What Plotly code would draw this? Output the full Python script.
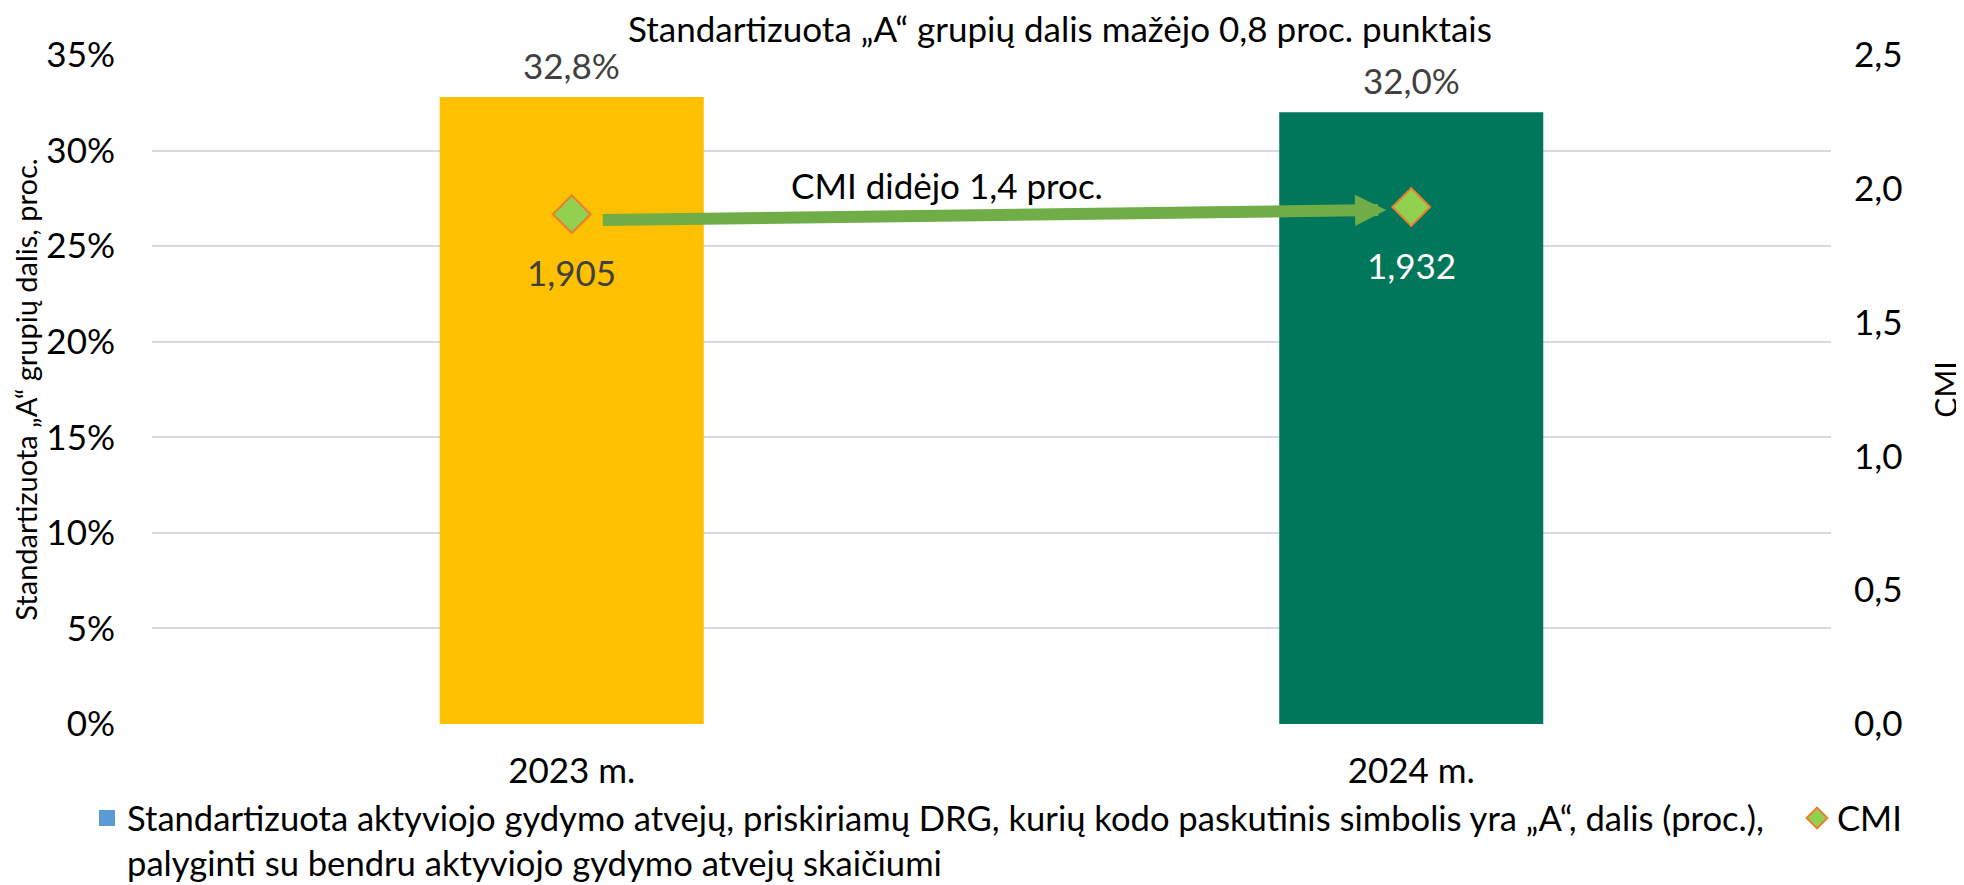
import plotly.graph_objects as go

# ---- data ----
categories = ["2023 m.", "2024 m."]
share_pct = [32.8, 32.0]
cmi_values = [1.905, 1.932]
bar_colors = ["#FFC000", "#00765A"]
cmi_label_colors = ["#404040", "#FFFFFF"]
left_ticks = [0, 5, 10, 15, 20, 25, 30, 35]
right_ticks = [0.0, 0.5, 1.0, 1.5, 2.0, 2.5]

title_text = "Standartizuota „A“ grupių dalis mažėjo 0,8 proc. punktais"
arrow_text = "CMI didėjo 1,4 proc."
left_title = "Standartizuota „A“ grupių dalis, proc."
right_title = "CMI"
bar_legend = ("Standartizuota aktyviojo gydymo atvejų, priskiriamų DRG, kurių kodo paskutinis simbolis yra „A“, dalis (proc.),"
              "<br>palyginti su bendru aktyviojo gydymo atvejų skaičiumi")
cmi_legend = "CMI"

FONT = "Lato"
FS = 35
LFS = 34.6

# page has an 8px body margin: figure coords = page coords - 8
W, H = 1956, 877
ML, MT, MR, MB = 144, 47, 133, 161
PW = W - ML - MR
PH = H - MT - MB


def fmt(v, d):
    return f"{v:.{d}f}".replace(".", ",")


def px_x(page_x):
    return (page_x - 8 - ML) / PW


def px_y(page_y):
    return 1 - (page_y - 8 - MT) / PH


fig = go.Figure()

# legend-only entry for the bar series (blue square as in the original legend)
fig.add_trace(go.Scatter(x=[categories[0]], y=[None], name=bar_legend, mode="markers",
                         marker=dict(symbol="square", size=16, color="#5B9BD5"),
                         showlegend=True, hoverinfo="skip", yaxis="y", legend="legend"))

fig.add_trace(go.Bar(x=categories, y=share_pct, marker=dict(color=bar_colors, line=dict(width=0)),
                     showlegend=False, yaxis="y", name="share"))

fig.add_trace(go.Scatter(x=categories, y=cmi_values, mode="markers", name=cmi_legend,
                         yaxis="y2", legend="legend2",
                         marker=dict(symbol="diamond", size=29, color="#92D050",
                                     line=dict(color="#ED7D31", width=2))))

annotations = []
# bar value labels
for c, v in zip(categories, share_pct):
    annotations.append(dict(x=c, y=v, xref="x", yref="y", text=fmt(v, 1) + "%",
                            showarrow=False, yshift=32, yanchor="middle",
                            font=dict(family=FONT, size=FS, color="#404040")))
# CMI value labels
for c, v, col in zip(categories, cmi_values, cmi_label_colors):
    annotations.append(dict(x=c, y=v, xref="x", yref="y2", text=fmt(v, 3),
                            showarrow=False, yshift=-58, yanchor="middle",
                            font=dict(family=FONT, size=FS, color=col)))
# arrow between CMI points
annotations.append(dict(x=categories[1], y=cmi_values[1], xref="x", yref="y2",
                        ax=-785, ay=10, axref="pixel", ayref="pixel",
                        xshift=-25, yshift=-3, text="", showarrow=True,
                        arrowhead=2, arrowsize=0.52, arrowwidth=12, arrowcolor="#70AD47",
                        standoff=0, startstandoff=0))
annotations.append(dict(x=px_x(947), y=px_y(185), xref="paper", yref="paper",
                        text=arrow_text, showarrow=False, xanchor="center", yanchor="middle",
                        font=dict(family=FONT, size=FS, color="#000000")))
# title
annotations.append(dict(x=px_x(1060), y=px_y(28), xref="paper", yref="paper",
                        text=title_text, showarrow=False, xanchor="center", yanchor="middle",
                        font=dict(family=FONT, size=FS, color="#000000")))

legend_common = dict(orientation="h", xref="container", yref="container",
                     xanchor="left", yanchor="top",
                     font=dict(family=FONT, size=LFS, color="#000000"),
                     valign="top", traceorder="normal", itemsizing="trace",
                     bgcolor="rgba(0,0,0,0)")

fig.update_layout(
    width=W, height=H,
    margin=dict(l=ML, r=MR, t=MT, b=MB, autoexpand=False),
    paper_bgcolor="white", plot_bgcolor="white",
    font=dict(family=FONT, size=FS, color="#000000"),
    separators=",.",
    barmode="overlay",
    bargap=0.6855,
    showlegend=True,
    legend=dict(x=79 / W, y=1 - 781 / H, **legend_common),
    legend2=dict(x=1789 / W, y=1 - 781 / H, **legend_common),
    xaxis=dict(type="category", showgrid=False, zeroline=False, showline=False,
               ticks="", ticklabelstandoff=23,
               tickfont=dict(family=FONT, size=FS, color="#000000")),
    yaxis=dict(range=[0, 35], tickvals=left_ticks,
               ticktext=[f"{t}%" for t in left_ticks],
               showgrid=True, gridcolor="#D9D9D9", gridwidth=2,
               zeroline=False, showline=False, ticks="", ticklabelstandoff=36,
               tickfont=dict(family=FONT, size=FS, color="#000000"),
               title=dict(text=left_title, standoff=6,
                          font=dict(family=FONT, size=29, color="#000000"))),
    yaxis2=dict(range=[0, 2.5], tickvals=right_ticks,
                ticktext=[fmt(t, 1) for t in right_ticks],
                overlaying="y", side="right", showgrid=False, zeroline=False,
                showline=False, ticks="", ticklabelstandoff=22,
                tickfont=dict(family=FONT, size=FS, color="#000000"),
                title=dict(text=right_title, standoff=34,
                           font=dict(family=FONT, size=30, color="#000000"))),
    annotations=annotations,
)

fig.write_html("out.html")
